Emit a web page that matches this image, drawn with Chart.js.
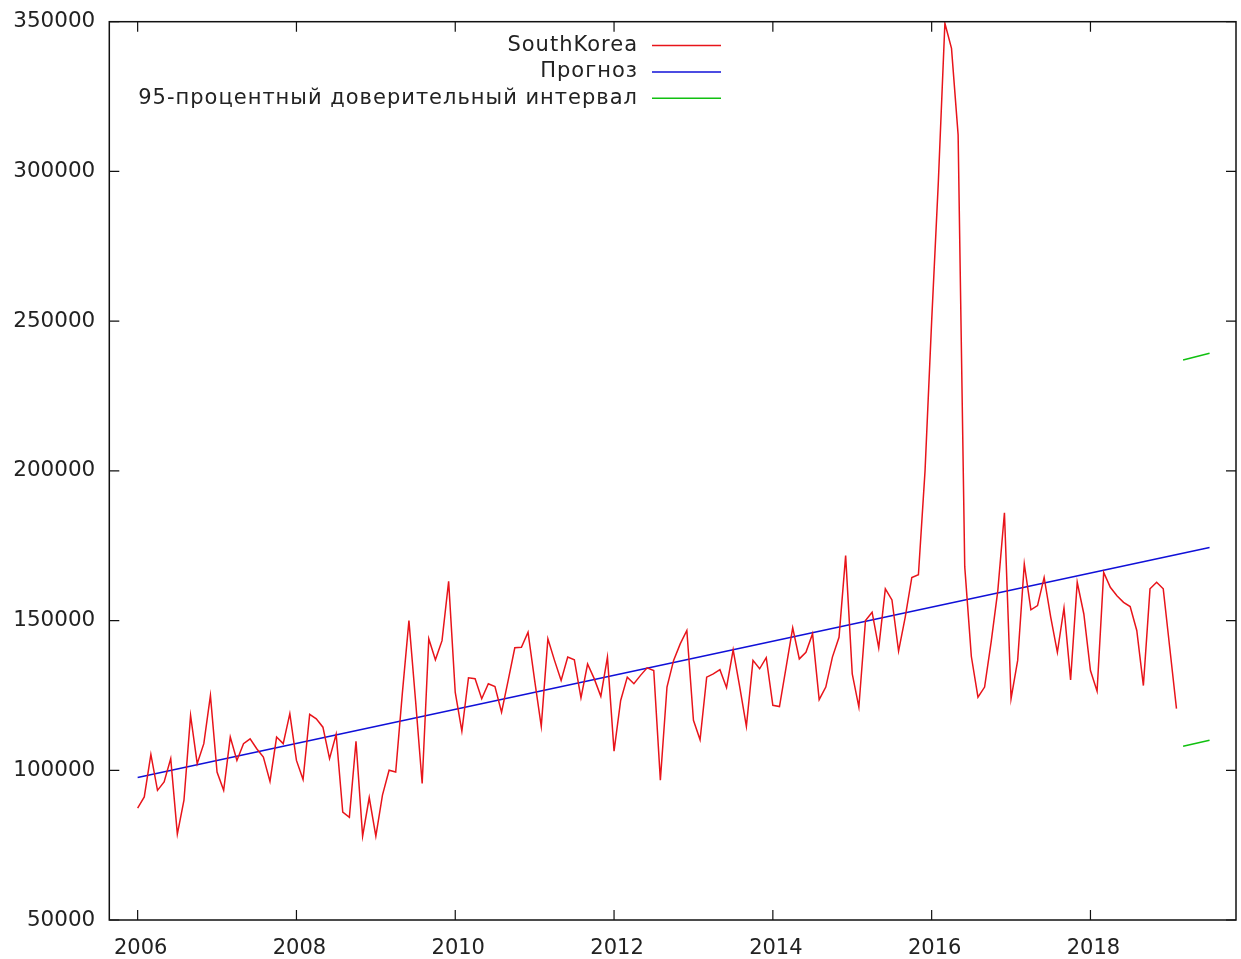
<!DOCTYPE html>
<html>
<head>
<meta charset="utf-8">
<script src="https://cdn.jsdelivr.net/npm/chart.js@4/dist/chart.umd.min.js"></script>
<style>
  html, body { margin: 0; padding: 0; background: #fff; }
  #wrap { width: 1241px; height: 959px; }
</style>
</head>
<body>
<div id="wrap"><canvas id="chart"></canvas></div>
<script>
// --- datos ---
const startYear = 2006; // primer mes: enero 2006, mensual
const southKorea = [
  87400, 91100, 105300, 93300, 96100, 103900, 78700, 90000, 118300, 102200, 108900, 125000,
  99400, 93300, 111100, 103300, 108900, 110500, 107200, 104400, 96300, 111100, 108900, 118900,
  103300, 96900, 118700, 117200, 114400, 103900, 112000, 86000, 84300, 109700, 78000, 90900,
  78000, 91700, 100000, 99400, 125600, 150000, 123300, 95600, 143900, 136900, 143300, 163100,
  126000, 113100, 130900, 130600, 123900, 128900, 128000, 119400, 130000, 140900, 141100, 146100,
  130000, 114700, 143900, 136700, 130000, 137800, 136900, 124200, 135500, 130600, 124700, 137800,
  106400, 123300, 131100, 128900, 131700, 134200, 133300, 96700, 127800, 136700, 142200, 146700,
  116700, 110200, 131100, 132200, 133600, 127600, 140200, 127800, 114700, 136700, 133900, 137600,
  121700, 121300, 134400, 147600, 137200, 139400, 145600, 123600, 127800, 137800, 144400, 171700,
  132200, 121100, 150000, 152800, 140900, 160600, 156900, 139800, 151100, 164400, 165300, 200000,
  250000, 296000, 349500, 341100, 312200, 168000, 138000, 124400, 127800, 143000, 160000, 186000,
  123900, 136700, 168900, 153600, 155000, 164400, 151100, 139400, 154200, 130200, 162800, 152200,
  133300, 126400, 166100, 161100, 158300, 156100, 154700, 146700, 128300, 160600, 162800, 160600,
  140600, 120600
];
const trendX = [2006, 2019.5];
const trendY = [97600, 174400];
const bandX = [2019 + 2 / 12, 2019.5];
const bandUpper = [237000, 239300];
const bandLower = [108000, 110000];

const xTicks = [2006, 2008, 2010, 2012, 2014, 2016, 2018];
const yTicks = [50000, 100000, 150000, 200000, 250000, 300000, 350000];

const seriesLabel = 'SouthKorea';
const trendLabel = 'Прогноз';
const bandLabel = '95-процентный доверительный интервал';

const fontFamily = '"DejaVu Sans", Verdana, sans-serif';
const textColor = '#222';

const toPoints = (xs, ys) => ys.map((y, i) => ({ x: xs[i], y: y }));
const monthX = southKorea.map((_, i) => startYear + i / 12);

// marco con ticks hacia dentro (estilo gnuplot)
const framePlugin = {
  id: 'frame',
  afterDraw(chart) {
    const { ctx, chartArea: a, scales } = chart;
    const len = 10;
    ctx.save();
    ctx.strokeStyle = '#111';
    ctx.lineWidth = 1.5;
    ctx.strokeRect(a.left, a.top, a.right - a.left, a.bottom - a.top);
    ctx.lineWidth = 1.2;
    ctx.beginPath();
    scales.x.ticks.forEach(t => {
      const px = scales.x.getPixelForValue(t.value);
      ctx.moveTo(px, a.bottom); ctx.lineTo(px, a.bottom - len);
      ctx.moveTo(px, a.top); ctx.lineTo(px, a.top + len);
    });
    scales.y.ticks.forEach(t => {
      const py = scales.y.getPixelForValue(t.value);
      ctx.moveTo(a.left, py); ctx.lineTo(a.left + len, py);
      ctx.moveTo(a.right, py); ctx.lineTo(a.right - len, py);
    });
    ctx.stroke();
    ctx.restore();
  }
};

// leyenda a la derecha del texto, como gnuplot
const keyPlugin = {
  id: 'key',
  afterDraw(chart) {
    const ctx = chart.ctx;
    const spacing = 1;
    const textRight = 637 + spacing;
    const lineStart = 652;
    const lineEnd = 721;
    let rowY = 45.5;
    ctx.save();
    ctx.font = '21px ' + fontFamily;
    ctx.letterSpacing = spacing + 'px';
    ctx.textAlign = 'right';
    ctx.textBaseline = 'middle';
    chart.data.datasets.forEach(ds => {
      if (!ds.label) return;
      ctx.fillStyle = textColor;
      ctx.fillText(ds.label, textRight, rowY);
      ctx.strokeStyle = ds.borderColor;
      ctx.lineWidth = 1.5;
      ctx.beginPath();
      ctx.moveTo(lineStart, rowY);
      ctx.lineTo(lineEnd, rowY);
      ctx.stroke();
      rowY += 26.4;
    });
    ctx.restore();
  }
};

const lineStyle = { borderWidth: 1.5, pointRadius: 0, tension: 0, fill: false };

new Chart(document.getElementById('chart'), {
  type: 'line',
  data: {
    datasets: [
      { label: seriesLabel, data: toPoints(monthX, southKorea), borderColor: '#e8141a', ...lineStyle },
      { label: trendLabel, data: toPoints(trendX, trendY), borderColor: '#1010d8', ...lineStyle },
      { label: bandLabel, data: toPoints(bandX, bandUpper), borderColor: '#10c010', ...lineStyle },
      { label: '', data: toPoints(bandX, bandLower), borderColor: '#10c010', ...lineStyle }
    ]
  },
  options: {
    responsive: true,
    maintainAspectRatio: false,
    animation: false,
    layout: { padding: { top: 21.7, right: 5, left: 0, bottom: 0 } },
    plugins: {
      legend: { display: false },
      tooltip: { enabled: false }
    },
    scales: {
      x: {
        type: 'linear',
        min: 2005.643,
        max: 2019.833,
        grid: { display: false, drawTicks: false },
        border: { display: false },
        afterBuildTicks: s => { s.ticks = xTicks.map(v => ({ value: v })); },
        afterFit: s => { s.height = 39; s.paddingLeft = 0; s.paddingRight = 0; },
        ticks: {
          color: textColor,
          font: { family: fontFamily, size: 21 },
          padding: 16,
          labelOffset: 3,
          maxRotation: 0,
          autoSkip: false,
          callback: v => String(v)
        }
      },
      y: {
        min: 50000,
        max: 350000,
        grid: { display: false, drawTicks: false },
        border: { display: false },
        afterBuildTicks: s => { s.ticks = yTicks.map(v => ({ value: v })); },
        afterFit: s => { s.width = 109.3; s.paddingTop = 0; s.paddingBottom = 0; },
        ticks: {
          color: textColor,
          font: { family: fontFamily, size: 21.5 },
          padding: 14,
          callback: v => String(v)
        }
      }
    }
  },
  plugins: [framePlugin, keyPlugin]
});
</script>
</body>
</html>
